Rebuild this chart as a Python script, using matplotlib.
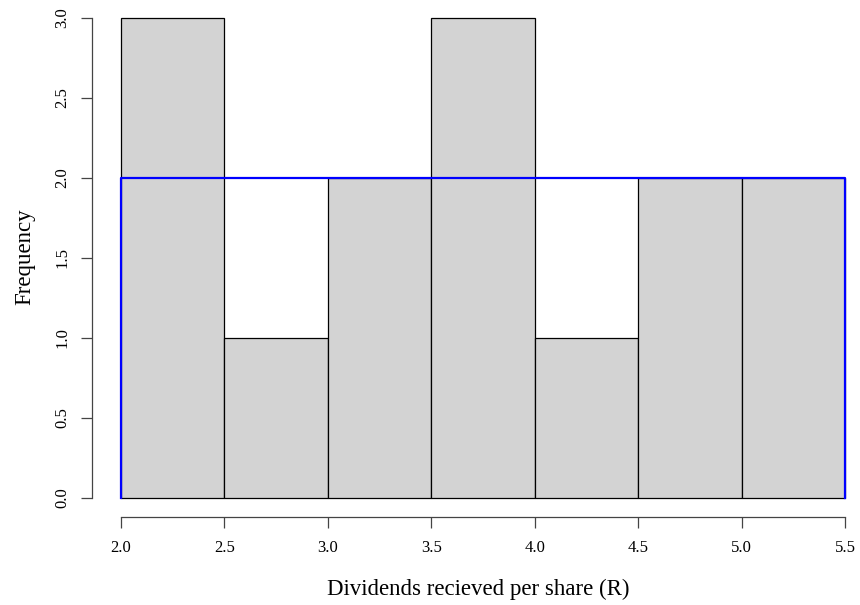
import numpy as np
import matplotlib.pyplot as plt

plt.rcParams['font.family'] = ['Liberation Serif', 'DejaVu Serif']

# histogram bins and counts
bin_edges = [2.0, 2.5, 3.0, 3.5, 4.0, 4.5, 5.0, 5.5]
counts = [3, 1, 2, 3, 1, 2, 2]
# flat reference outline
ref_x = [2.0, 2.0, 5.5, 5.5]
ref_y = [0, 2, 2, 0]

x_ticks = [2.0, 2.5, 3.0, 3.5, 4.0, 4.5, 5.0, 5.5]
y_ticks = [0.0, 0.5, 1.0, 1.5, 2.0, 2.5, 3.0]

W, H = 860, 605
fig = plt.figure(figsize=(W / 100, H / 100), dpi=100)
# axes placed in pixels, like R's plot region
left, right, top, bottom = 92, 860, -1.2, 517.2
ax = fig.add_axes([left / W, (H - bottom) / H, (right - left) / W, (bottom - top) / H])

x_per_px = 3.5 / (845 - 121)
ax.set_xlim(2.0 - (121 - left) * x_per_px, 5.5 + (right - 845) * x_per_px)
ax.set_ylim(-0.12, 3.12)

edges = np.array(bin_edges)
ax.bar(edges[:-1], counts, width=np.diff(edges), align='edge',
       color='#d3d3d3', edgecolor='black', linewidth=0.9)
ax.plot(ref_x, ref_y, color='blue', linewidth=1.6)

for s in ['top', 'right']:
    ax.spines[s].set_visible(False)
ax.spines['left'].set_bounds(0, 3)
ax.spines['bottom'].set_bounds(2.0, 5.5)
for s in ['left', 'bottom']:
    ax.spines[s].set_color('#444444')
    ax.spines[s].set_linewidth(0.9)

ax.set_xticks(x_ticks)
ax.set_xticklabels([f"{v:.1f}" for v in x_ticks])
ax.set_yticks(y_ticks)
ax.set_yticklabels([f"{v:.1f}" for v in y_ticks], rotation=90, va='center')
ax.tick_params(length=7.6, width=0.9, color='#444444', labelsize=12)
ax.tick_params(axis='x', pad=9.1)
ax.tick_params(axis='y', pad=7.8)

ax.set_xlabel("Dividends recieved per share (R)", fontsize=16.5)
ax.set_ylabel("Frequency", fontsize=16.5)
ax.xaxis.set_label_coords((478 - left) / (right - left), (bottom - 579) / (bottom - top))
ax.yaxis.set_label_coords((35 - left) / (right - left), (bottom - 256.5) / (bottom - top))

fig.savefig("out.png", dpi=100)
